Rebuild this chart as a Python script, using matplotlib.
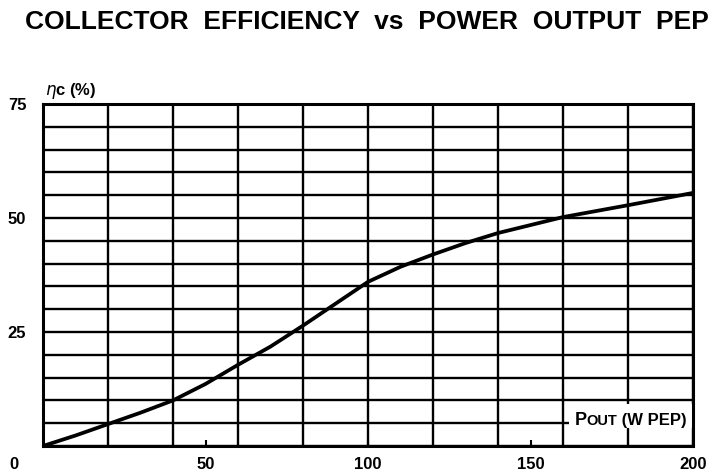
import numpy as np
import matplotlib
matplotlib.use("Agg")
import matplotlib.pyplot as plt
from matplotlib.patches import Rectangle

# --- data ---
p_out = [0, 10, 20, 30, 40, 50, 60, 70, 80, 90, 100, 110, 120, 130, 140, 160, 180, 200]
eta_c = [0, 2.3, 4.8, 7.3, 10.0, 13.6, 17.8, 21.8, 26.4, 31.2, 36.0, 39.3, 42.0, 44.5, 46.7, 50.2, 52.8, 55.5]

x_ticks = [50, 100, 150, 200]
y_ticks = [25, 50, 75]
x_grid = np.arange(0, 201, 20)
y_grid = np.arange(0, 76, 5)

plt.rcParams['font.family'] = ['Liberation Sans', 'DejaVu Sans']

fig = plt.figure(figsize=(7.23, 4.74), dpi=100)
ax = fig.add_axes([0.0595, 0.0591, 0.8990, 0.7215])

ax.set_xlim(0, 200)
ax.set_ylim(0, 75)

# grid on minor ticks (keep the ones that sit on major ticks too)
ax.xaxis.remove_overlapping_locs = False
ax.yaxis.remove_overlapping_locs = False
ax.set_xticks(x_grid, minor=True)
ax.set_yticks(y_grid, minor=True)
ax.grid(which='minor', color='black', linewidth=1.7)
ax.tick_params(which='minor', length=0)

ax.set_xticks(x_ticks)
ax.set_xticklabels([str(v) for v in x_ticks], fontsize=12, fontweight='bold')
ax.set_yticks(y_ticks)
ax.set_yticklabels([str(v) for v in y_ticks], fontsize=12, fontweight='bold')
ax.tick_params(axis='x', direction='in', length=4, width=1.5, pad=8)
ax.tick_params(axis='y', length=0, pad=12)

for s in ax.spines.values():
    s.set_linewidth(2.2)

ax.plot(p_out, eta_c, color='black', linewidth=2.7, solid_capstyle='round', zorder=5)

# corner zero
ax.text(-0.045, -0.033, "0", transform=ax.transAxes, ha='center', va='top',
        fontsize=12, fontweight='bold')

# y label
ax.text(0.003, 1.026, r"$\eta$c (%)", transform=ax.transAxes, ha='left', va='baseline',
        fontsize=12, fontweight='bold')

# x label with white patch over the grid
ax.add_patch(Rectangle((162, 4.0), 38, 5.3, facecolor='white', edgecolor='none', zorder=2))
base_y = 4.6
t1 = ax.text(163.5, base_y, "P", ha='left', va='baseline', fontsize=13, fontweight='bold', zorder=6)
t2 = ax.annotate("OUT", xy=(1, base_y), xycoords=(t1, 'data'), ha='left', va='baseline',
                 fontsize=10.5, fontweight='bold', zorder=6)
ax.annotate(" (W PEP)", xy=(1, base_y), xycoords=(t2, 'data'), ha='left', va='baseline',
            fontsize=12, fontweight='bold', zorder=6)

fig.text(0.508, 0.938, "COLLECTOR  EFFICIENCY  vs  POWER  OUTPUT  PEP", ha='center', va='baseline',
         fontsize=19, fontweight='bold')

fig.savefig("out.png", dpi=100, facecolor='white')
